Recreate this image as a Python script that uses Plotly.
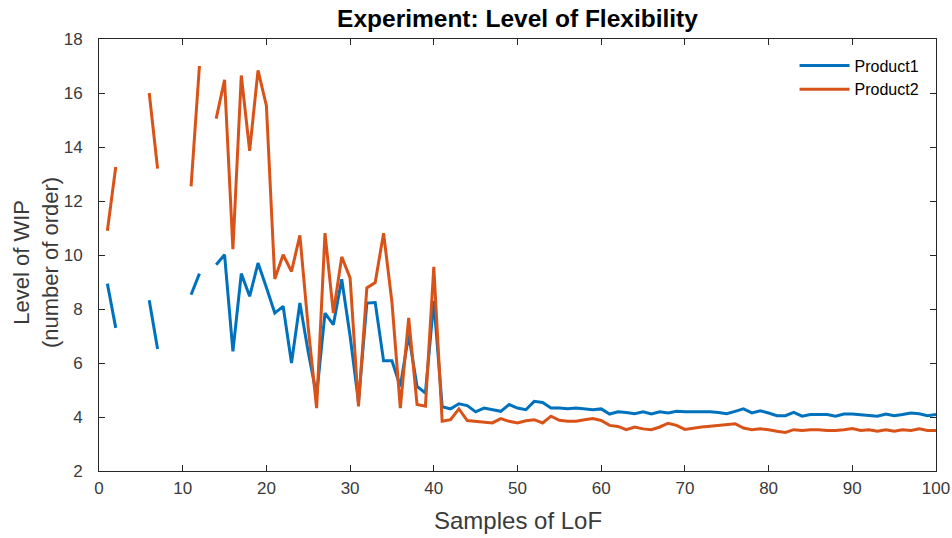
import plotly.graph_objects as go

# Sample index of the level-of-flexibility experiment
samples = list(range(1, 101))

# Work-in-progress level per sample (None = no observation)
product1 = [
    8.94, 7.30, None, None, None, 8.32, 6.52, None, None, None,
    8.53, 9.31, None, 9.64, 10.01, 6.43, 9.31, 8.47, 9.70, 8.80,
    7.85, 8.10, 6.00, 8.22, 6.40, 4.80, 7.85, 7.42, 9.10, 7.00,
    4.55, 8.22, 8.24, 6.08, 6.08, 5.13, 7.05, 5.13, 4.89, 8.30,
    4.38, 4.30, 4.49, 4.42, 4.19, 4.33, 4.27, 4.21, 4.46, 4.33,
    4.27, 4.58, 4.54, 4.33, 4.33, 4.31, 4.33, 4.30, 4.27, 4.30,
    4.11, 4.19, 4.17, 4.12, 4.19, 4.11, 4.19, 4.15, 4.21, 4.19,
    4.19, 4.21, 4.19, 4.17, 4.12, 4.21, 4.30, 4.15, 4.23, 4.15,
    4.05, 4.05, 4.17, 4.03, 4.09, 4.09, 4.09, 4.03, 4.11, 4.11,
    4.09, 4.05, 4.03, 4.11, 4.05, 4.09, 4.15, 4.12, 4.05, 4.09,
]

product2 = [
    10.90, 13.26, None, None, None, 16.00, 13.20, None, None, None,
    12.54, 17.00, None, 15.05, 16.49, 10.22, 16.65, 13.86, 16.84, 15.53,
    9.11, 10.01, 9.39, 10.73, 7.30, 4.33, 10.81, 7.85, 9.93, 9.15,
    4.39, 8.78, 8.98, 10.81, 8.25, 4.33, 7.67, 4.46, 4.40, 9.56,
    3.84, 3.90, 4.30, 3.87, 3.84, 3.80, 3.78, 3.94, 3.84, 3.78,
    3.86, 3.90, 3.78, 4.03, 3.88, 3.84, 3.84, 3.90, 3.94, 3.87,
    3.69, 3.65, 3.53, 3.63, 3.56, 3.53, 3.63, 3.77, 3.69, 3.54,
    3.59, 3.63, 3.66, 3.69, 3.73, 3.75, 3.59, 3.53, 3.56, 3.53,
    3.47, 3.43, 3.53, 3.50, 3.53, 3.53, 3.50, 3.50, 3.53, 3.57,
    3.50, 3.53, 3.47, 3.53, 3.47, 3.53, 3.50, 3.56, 3.50, 3.50,
]

series_names = ["Product1", "Product2"]
series_colors = ["#0072BD", "#D95319"]

x_ticks = list(range(0, 101, 10))
y_ticks = list(range(2, 19, 2))

FONT = "Liberation Sans, Arial, Helvetica, sans-serif"
AXIS_COLOR = "#262626"
LABEL_COLOR = "#3a3a3a"

fig = go.Figure()
for name, values, color in zip(series_names, [product1, product2], series_colors):
    fig.add_trace(go.Scatter(
        x=samples, y=values, name=name, mode="lines",
        line=dict(color=color, width=3),
        connectgaps=False,
    ))

axis_common = dict(
    showline=True, linecolor=AXIS_COLOR, linewidth=1,
    mirror="ticks", ticks="inside", ticklen=6, tickcolor=AXIS_COLOR,
    showgrid=False, zeroline=False, automargin=False,
    tickfont=dict(family=FONT, size=17, color=LABEL_COLOR),
)

fig.update_layout(
    width=952, height=538,
    paper_bgcolor="white", plot_bgcolor="white",
    margin=dict(l=99, r=16, t=39, b=67),
    title=dict(
        text="<b>Experiment: Level of Flexibility</b>",
        x=0.5436, xanchor="center", y=0.965, yanchor="middle",
        font=dict(family=FONT, size=24.5, color="black"),
    ),
    xaxis=dict(range=[0, 100], tickvals=x_ticks, ticklabelstandoff=2, **axis_common),
    yaxis=dict(range=[2, 18], tickvals=y_ticks, ticklabelstandoff=12, **axis_common),
    legend=dict(
        x=0.831, y=0.978, xanchor="left", yanchor="top",
        bgcolor="rgba(255,255,255,0)", borderwidth=0,
        font=dict(family=FONT, size=16, color="black"),
        itemwidth=50, tracegroupgap=0,
    ),
    showlegend=True,
)

# Axis titles
fig.add_annotation(
    text="Samples of LoF", xref="paper", yref="paper", x=0.5, y=0,
    xanchor="center", yanchor="middle", yshift=-49, showarrow=False,
    font=dict(family=FONT, size=24, color=LABEL_COLOR),
)
fig.add_annotation(
    text="Level of WIP<br>(number of order)", xref="paper", yref="paper", x=0, y=0.5,
    xanchor="center", yanchor="middle", xshift=-63, yshift=-8, textangle=-90, showarrow=False,
    font=dict(family=FONT, size=22, color=LABEL_COLOR),
)

fig.write_html("out.html")
